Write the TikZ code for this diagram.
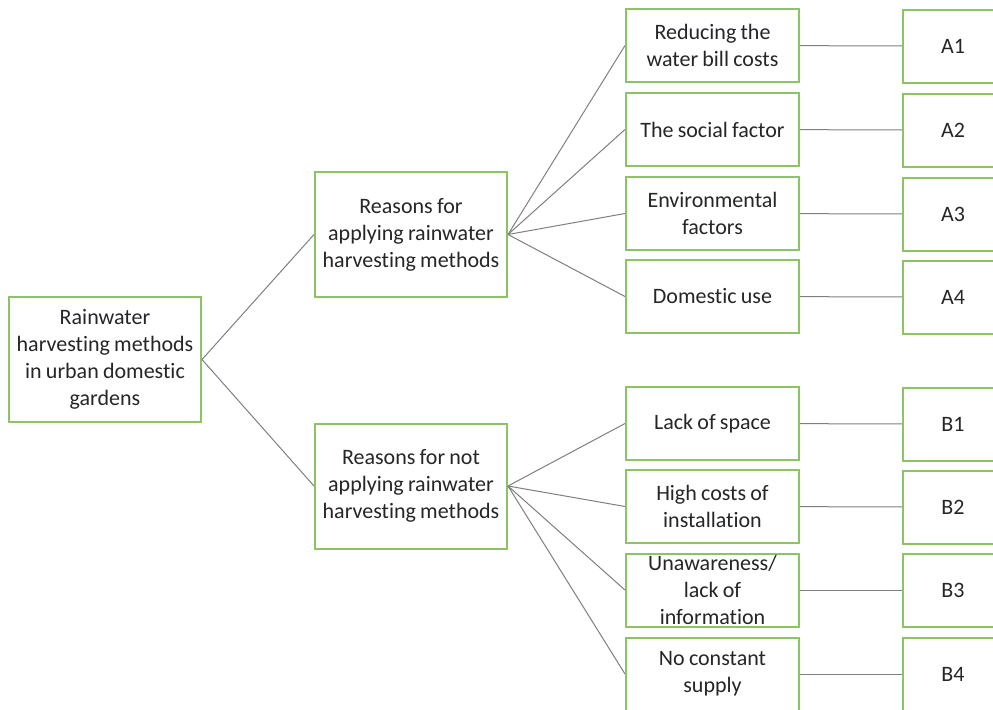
\documentclass[tikz,border=0pt]{standalone}
\usepackage{fontspec}
\setmainfont{Carlito}[Ligatures=NoCommon,WordSpace=0.85]
\usetikzlibrary{positioning}
\definecolor{ink}{HTML}{262626}
\definecolor{boxline}{HTML}{8CC465}
\definecolor{wire}{HTML}{7F7F7F}
\newcommand{\eleven}{\fontsize{11}{13.5}\selectfont}
\tikzset{
 every node/.append style={font=\eleven,text=ink,align=center},
 box/.style={draw=boxline,fill=white,line width=1pt,inner sep=2pt,minimum width=86.5pt,minimum height=36.5pt},
 topbox/.style={box,minimum width=96pt,minimum height=62.5pt},
 codebox/.style={box,minimum width=50pt},
 branch/.style={draw=wire,line width=.5pt},
}
\begin{document}
\begin{tikzpicture}[x=0.5pt,y=-0.5pt]

\useasboundingbox (0,0) rectangle (993,709);
% main topic and the two groups
\node[topbox] (root) at (105,359.5) {Rainwater\\harvesting methods\\in urban domestic\\gardens};
\node[topbox] (apply) at (411,234.5) {Reasons for\\applying rainwater\\harvesting methods};
\node[topbox] (notapply) at (411,486) {Reasons for not\\applying rainwater\\harvesting methods};
% reasons for
\node[box] (cost) at (712.5,45.5) {Reducing the\\water bill costs};
\node[box] (social) at (712.5,129.5) {The social factor};
\node[box] (envir) at (712.5,213.5) {Environmental\\factors};
\node[box] (domestic) at (712.5,296.5) {Domestic use};
% reasons against
\node[box] (space) at (712.5,423.5) {Lack of space};
\node[box] (price) at (712.5,506.5) {High costs of\\installation};
\node[box,inner ysep=-1.5pt] (aware) at (712.5,590) {Unawareness/\\lack of\\information};
\node[box] (supply) at (712.5,674) {No constant\\supply};
% codes
\node[codebox] (ca1) at (953,46) {A1};
\node[codebox] (ca2) at (953,130) {A2};
\node[codebox] (ca3) at (953,214) {A3};
\node[codebox] (ca4) at (953,297) {A4};
\node[codebox] (cb1) at (953,424) {B1};
\node[codebox] (cb2) at (953,507) {B2};
\node[codebox] (cb3) at (953,590) {B3};
\node[codebox] (cb4) at (953,674) {B4};

\draw[branch] (root.east) -- (apply.west);
\draw[branch] (root.east) -- (notapply.west);
\foreach \n in {cost,social,envir,domestic}
  \draw[branch] (apply.east) -- (\n.west);
\foreach \n in {space,price,aware,supply}
  \draw[branch] (notapply.east) -- (\n.west);
\draw[branch] (cost) -- (ca1);
\draw[branch] (social) -- (ca2);
\draw[branch] (envir) -- (ca3);
\draw[branch] (domestic) -- (ca4);
\draw[branch] (space) -- (cb1);
\draw[branch] (price) -- (cb2);
\draw[branch] (aware) -- (cb3);
\draw[branch] (supply) -- (cb4);

\end{tikzpicture}
\end{document}
